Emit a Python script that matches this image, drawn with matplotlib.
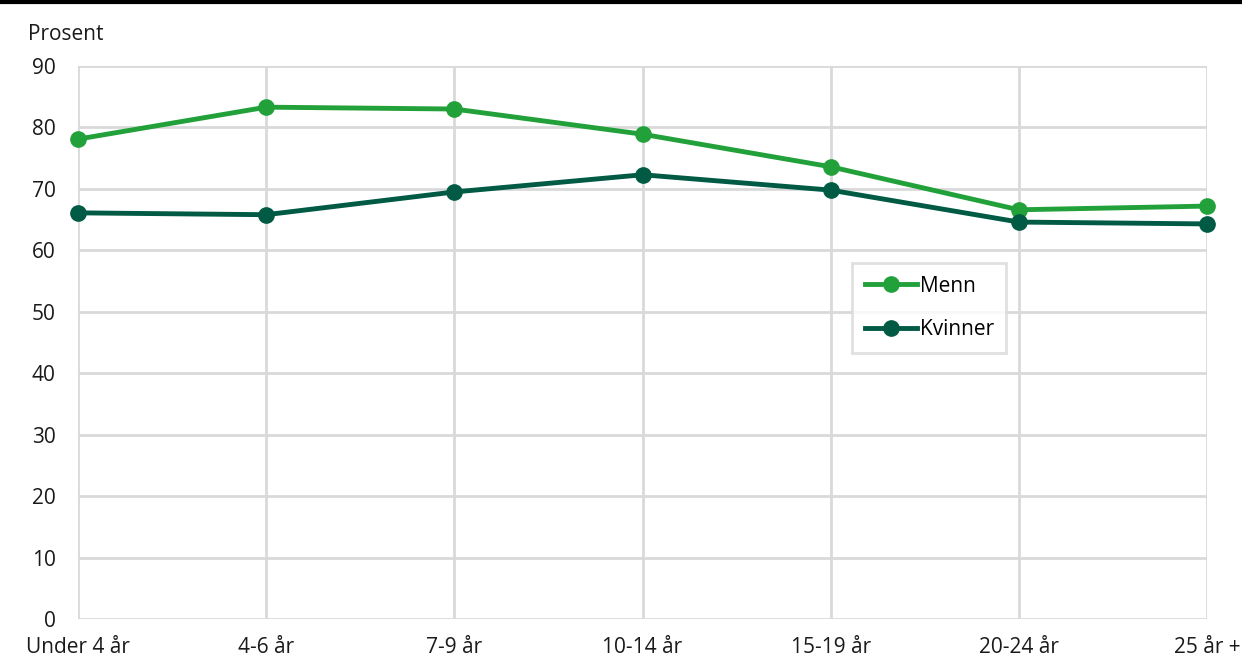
import matplotlib.pyplot as plt
from matplotlib.lines import Line2D

plt.rcParams['font.family'] = ['Open Sans', 'DejaVu Sans']

categories = ['Under 4 år', '4-6 år', '7-9 år', '10-14 år', '15-19 år', '20-24 år', '25 år +']
menn = [78.1, 83.3, 83.0, 78.9, 73.6, 66.6, 67.2]
kvinner = [66.1, 65.8, 69.5, 72.3, 69.8, 64.6, 64.3]

green = '#22a13a'
dark = '#005a44'
grid = '#d9d9d9'
fs = 15

fig = plt.figure(figsize=(12.42, 6.6), dpi=100)
ax = fig.add_axes([78 / 1242, 41 / 660, (1207 - 78) / 1242, (619 - 66) / 660])

x = list(range(len(categories)))
ax.plot(x, menn, color=green, lw=3.5, marker='o', ms=11, label='Menn', zorder=3, clip_on=False)
ax.plot(x, kvinner, color=dark, lw=3.5, marker='o', ms=11, label='Kvinner', zorder=3, clip_on=False)

ax.set_xlim(0, len(categories) - 1)
ax.set_ylim(0, 90)
ax.set_yticks(range(0, 91, 10))
ax.set_xticks(x)
ax.set_xticklabels(categories)
ax.grid(True, color=grid, lw=2)
ax.set_axisbelow(True)
for s in ax.spines.values():
    s.set_visible(False)
ax.tick_params(length=0, labelsize=fs, colors='#1a1a1a')
ax.tick_params(axis='y', pad=16)
ax.tick_params(axis='x', pad=13)

fig.text(28 / 1242, 1 - 35 / 660, 'Prosent', fontsize=fs, color='#1a1a1a', va='center', ha='left')

# top rule
fig.add_artist(Line2D([0, 1], [1 - 1.5 / 660, 1 - 1.5 / 660], color='black', lw=3, transform=fig.transFigure))

handles = [Line2D([], [], color=green, lw=3.5, marker='o', ms=11),
           Line2D([], [], color=dark, lw=3.5, marker='o', ms=11)]
leg = ax.legend(handles, ['Menn', 'Kvinner'], loc='upper left',
                bbox_to_anchor=((852 - 78) / 1129, (619 - 263) / 553),
                fontsize=fs, frameon=True, fancybox=False, edgecolor=grid,
                handlelength=2.5, handletextpad=0.15, borderpad=0.6, labelspacing=1.1,
                borderaxespad=0)
leg.get_frame().set_linewidth(2)

fig.savefig('out.png', dpi=100)
